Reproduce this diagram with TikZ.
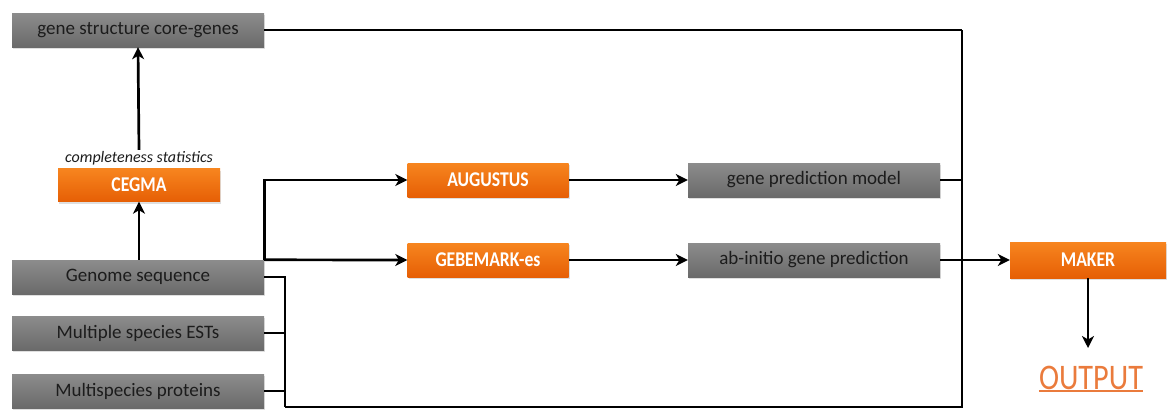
\documentclass[tikz,border=0pt]{standalone}
\usepackage{fontspec}
\setmainfont{Carlito}
\newfontfamily\condfont[FakeStretch=0.84]{Carlito}
\usetikzlibrary{arrows.meta,shadows}
\definecolor{graytop}{HTML}{8C8C8C}
\definecolor{graybot}{HTML}{6A6A6A}
\definecolor{orgtop}{HTML}{F7851F}
\definecolor{orgbot}{HTML}{E65F05}
\definecolor{outorg}{HTML}{EA7B3C}
\definecolor{txtdark}{HTML}{1C1C1C}
\tikzset{
  graybox/.style={rectangle, top color=graytop, bottom color=graybot, draw=none,
    text=txtdark, font=\fontsize{19}{21}\selectfont, minimum height=34pt, inner sep=0pt,
    drop shadow={opacity=0.25, shadow xshift=1pt, shadow yshift=-2pt}},
  orgbox/.style={rectangle, top color=orgtop, bottom color=orgbot, draw=none,
    text=white, font=\condfont\bfseries\fontsize{21}{23}\selectfont, minimum height=34pt, inner sep=0pt,
    drop shadow={opacity=0.25, shadow xshift=1pt, shadow yshift=-2pt}},
  conn/.style={line width=2.7pt, black},
  arr/.style={conn, -{Stealth[length=12pt,width=12pt,inset=3.5pt]}},
}
\begin{document}
\begin{tikzpicture}[x=1pt,y=-1pt]
\useasboundingbox (0,0) rectangle (1168,410);
% nodes
\node[graybox, minimum width=252pt] (gs) at (138,30) {gene structure core-genes};
\node[orgbox, minimum width=162pt, minimum height=33pt] (cegma) at (139,185) {CEGMA};
\node[font=\fontsize{16}{18}\selectfont\itshape, text=txtdark, inner sep=1pt] (stat) at (139,158) {completeness statistics};
\node[graybox, minimum width=252pt] (genome) at (138,277) {Genome sequence};
\node[graybox, minimum width=252pt] (ests) at (138,333) {Multiple species ESTs};
\node[graybox, minimum width=252pt] (prot) at (138,391) {Multispecies proteins};
\node[orgbox, minimum width=161pt] (aug) at (488,180) {AUGUSTUS};
\node[orgbox, minimum width=161pt] (geb) at (488,260) {GEBEMARK-es};
\node[graybox, minimum width=252pt] (gpm) at (814,180) {gene prediction model};
\node[graybox, minimum width=252pt] (abi) at (814,260) {ab-initio gene prediction};
\node[orgbox, minimum width=156pt, minimum height=36pt] (maker) at (1088,260) {MAKER};
\node[text=outorg, font=\fontsize{36}{38}\selectfont\condfont, inner sep=0pt] (out) at (1091,378) {OUTPUT};
\draw[outorg, line width=1.8pt] ([yshift=-1pt]out.south west) -- ([yshift=-1pt]out.south east);
% coordinates
\coordinate (tr) at (962,30);
\coordinate (br) at (962,407);
\coordinate (bl) at (285,407);
\coordinate (outtop) at (1088,348);
% connectors
\draw[arr] (stat.north) -- (gs.south);
\draw[arr] (genome.north -| cegma) -- (cegma.south);
\draw[arr] (genome.north east) |- (aug.west);
\draw[arr] (genome.north east) -- (geb.west);
\draw[arr] (aug.east) -- (gpm.west);
\draw[arr] (geb.east) -- (abi.west);
\draw[arr] (abi.east) -- (maker.west);
\draw[arr] (maker.south) -- (outtop);
\draw[conn, line width=1.8pt] (gs.east) -- (tr);
\draw[conn] (tr) -- (br) -- (bl);
\draw[conn] (gpm.east) -- (gpm.east -| tr);
\draw[conn] (genome.east) -| (bl);
\draw[conn] (ests.east) -- (ests.east -| bl);
\draw[conn] (prot.east) -- (prot.east -| bl);
\end{tikzpicture}
\end{document}
